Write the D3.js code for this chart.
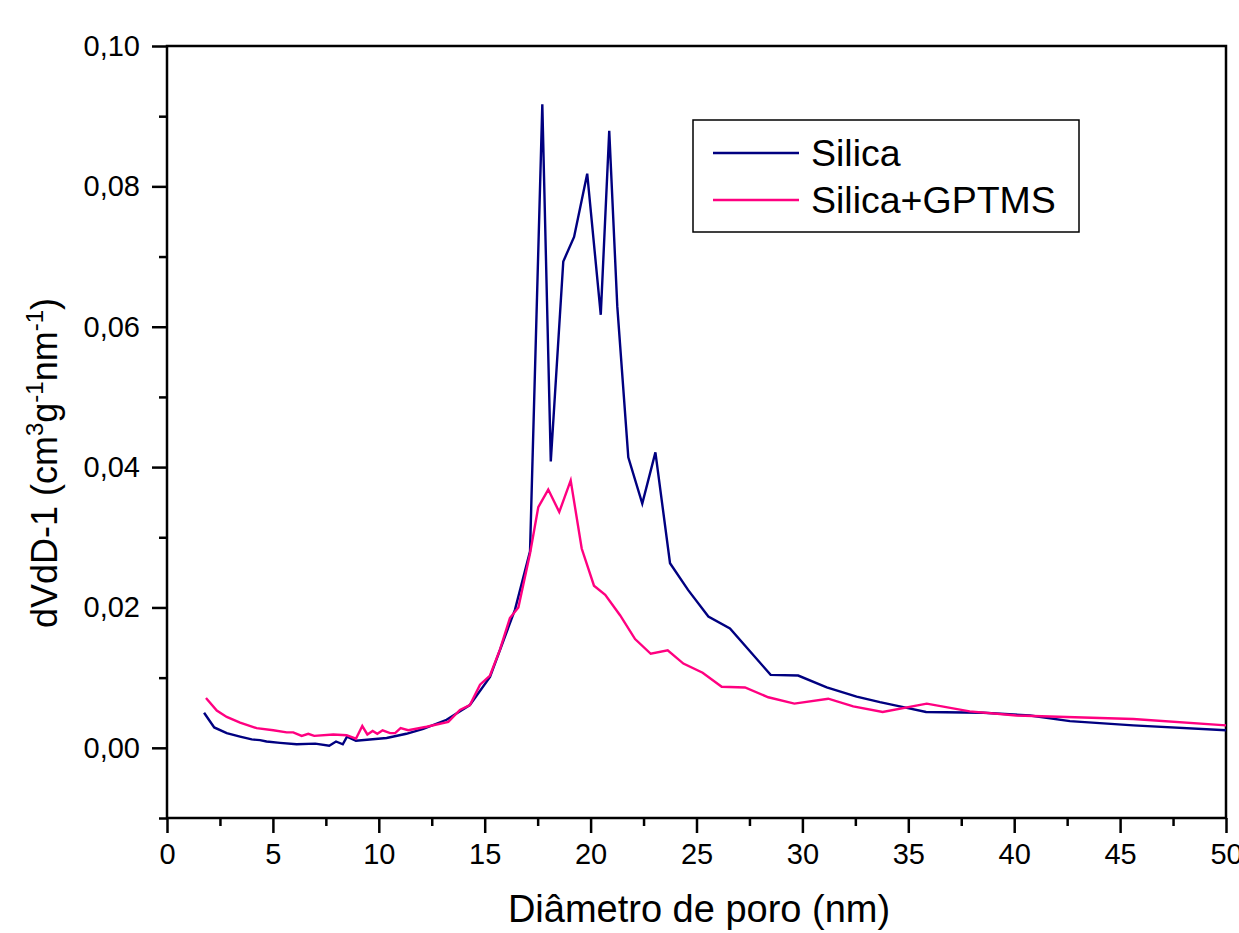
<!DOCTYPE html>
<html>
<head>
<meta charset="utf-8">
<script src="https://cdn.jsdelivr.net/npm/d3@7"></script>
<style>
  body { margin: 0; background: #fff; }
  text { font-family: Arial, "Liberation Sans", sans-serif; fill: #000; }
</style>
</head>
<body>
<div id="chart"></div>
<script>
// pore diameter (nm) and dV/dD for each sample
const silica_x = [1.75,2.23,2.82,3.45,4.0,4.39,4.7,5.34,6.12,7.0,7.66,7.98,8.3,8.5,8.92,10.37,11.3,12.1,13.2,14.3,15.25,15.9,16.43,17.14,17.72,18.12,18.71,19.22,19.84,20.48,20.88,21.26,21.78,22.44,23.06,23.75,24.6,25.56,26.58,28.5,29.8,31.15,32.56,33.66,34.6,35.84,38.54,40.75,42.63,45.62,50];
const silica_y = [0.0050,0.0029,0.0021,0.0016,0.0012,0.0011,0.0009,0.0007,0.0005,0.0006,0.0003,0.0009,0.0005,0.0016,0.0010,0.0014,0.0020,0.0027,0.0040,0.0061,0.0101,0.0154,0.0197,0.0280,0.0917,0.0408,0.0693,0.0728,0.0818,0.0617,0.0879,0.0629,0.0414,0.0348,0.0421,0.0263,0.0225,0.0187,0.0170,0.0104,0.0103,0.0086,0.0073,0.0065,0.0059,0.0051,0.0050,0.0046,0.0038,0.0032,0.0025];

const gptms_x = [1.84,2.35,2.82,3.45,4.23,5.02,5.65,5.96,6.36,6.67,6.95,7.85,8.48,8.92,9.22,9.46,9.71,9.93,10.18,10.53,10.77,11.03,11.39,12.26,13.28,13.83,14.3,14.78,15.25,15.72,16.19,16.59,17.14,17.53,18.0,18.52,19.06,19.58,20.16,20.69,21.39,22.1,22.84,23.64,24.38,25.29,26.19,27.29,28.39,29.62,31.22,32.4,33.79,35.87,37.9,40.1,45.62,50];
const gptms_y = [0.0071,0.0053,0.0044,0.0036,0.0028,0.0025,0.0022,0.0022,0.0017,0.0020,0.0017,0.0019,0.0018,0.0013,0.0031,0.0019,0.0024,0.0020,0.0025,0.0021,0.0021,0.0028,0.0025,0.0030,0.0037,0.0054,0.0061,0.0090,0.0103,0.0140,0.0185,0.0200,0.0277,0.0343,0.0368,0.0336,0.0381,0.0284,0.0231,0.0218,0.0189,0.0155,0.0134,0.0139,0.0120,0.0107,0.0087,0.0086,0.0072,0.0063,0.0070,0.0059,0.0051,0.0063,0.0052,0.0046,0.0041,0.0032];

const series_names = ['Silica','Silica+GPTMS'];
const series_colors = ['#000080','#ff0080'];

const x_major = [0,5,10,15,20,25,30,35,40,45,50];
const x_minor = [2.5,7.5,12.5,17.5,22.5,27.5,32.5,37.5,42.5,47.5];
const y_major = [0,0.02,0.04,0.06,0.08,0.10];
const y_minor = [-0.01,0.01,0.03,0.05,0.07,0.09];

function make_svg(selection,width,height) {
  let el = d3.select(selection);
  el.select('svg').remove();
  return el.append('svg').attr('width',width).attr('height',height);
}

let W = 1239, H = 933;
let box = { l: 167, r: 1226, t: 46, b: 818 };
let svg = make_svg('#chart',W,H);

let sx = d3.scaleLinear().domain([0,50]).range([box.l,box.r]);
let sy = d3.scaleLinear().domain([-0.01,0.10]).range([box.b,box.t]);

// x axis: outward ticks, labels under
let xa = svg.append('g').attr('transform','translate(0,'+box.b+')');
xa.call(d3.axisBottom(sx).tickValues(x_major).tickSize(15).tickPadding(10)
  .tickFormat(d3.format('d')));
xa.append('g').call(d3.axisBottom(sx).tickValues(x_minor).tickSize(8).tickFormat(''));
xa.selectAll('.domain').remove();
xa.selectAll('line').attr('stroke','#000').attr('stroke-width',2.5);
xa.selectAll('text').style('font-size','29px').attr('fill','#000');

// y axis
let ya = svg.append('g').attr('transform','translate('+box.l+',0)');
ya.call(d3.axisLeft(sy).tickValues(y_major).tickSize(15).tickPadding(12)
  .tickFormat(d => d3.format('.2f')(d).replace('.',',')));
ya.append('g').call(d3.axisLeft(sy).tickValues(y_minor).tickSize(8).tickFormat(''));
ya.selectAll('.domain').remove();
ya.selectAll('line').attr('stroke','#000').attr('stroke-width',2.5);
ya.selectAll('text').style('font-size','29px').attr('fill','#000');

// frame
svg.append('rect').attr('x',box.l).attr('y',box.t)
  .attr('width',box.r-box.l).attr('height',box.b-box.t)
  .attr('fill','none').attr('stroke','#000').attr('stroke-width',2.5);

// curves
let line = d3.line().x(d => sx(d[0])).y(d => sy(d[1]));
[[silica_x,silica_y],[gptms_x,gptms_y]].forEach((s,i) => {
  svg.append('path')
    .attr('d', line(d3.zip(s[0],s[1])))
    .attr('fill','none')
    .attr('stroke',series_colors[i])
    .attr('stroke-width',2.4)
    .attr('stroke-linejoin','miter');
});

// axis titles
svg.append('text').attr('x',699).attr('y',922)
  .attr('text-anchor','middle').style('font-size','38px')
  .text('Diâmetro de poro (nm)');

let yt = svg.append('text')
  .attr('transform','translate(57,463) rotate(-90)')
  .attr('text-anchor','middle').style('font-size','36px');
yt.append('tspan').text('dVdD-1 (cm');
yt.append('tspan').attr('dy',-14).style('font-size','24px').text('3');
yt.append('tspan').attr('dy',14).text('g');
yt.append('tspan').attr('dy',-14).style('font-size','24px').text('-1');
yt.append('tspan').attr('dy',14).text('nm');
yt.append('tspan').attr('dy',-14).style('font-size','24px').text('-1');
yt.append('tspan').attr('dy',14).text(')');

// legend
let lg = svg.append('g');
lg.append('rect').attr('x',693).attr('y',120).attr('width',386).attr('height',112)
  .attr('fill','#fff').attr('stroke','#000').attr('stroke-width',1.5);
series_names.forEach((n,i) => {
  let yy = 153 + i*47;
  lg.append('line').attr('x1',713).attr('x2',799).attr('y1',yy).attr('y2',yy)
    .attr('stroke',series_colors[i]).attr('stroke-width',2.4);
  lg.append('text').attr('x',811).attr('y',yy+13).style('font-size','37.5px').text(n);
});
</script>
</body>
</html>
